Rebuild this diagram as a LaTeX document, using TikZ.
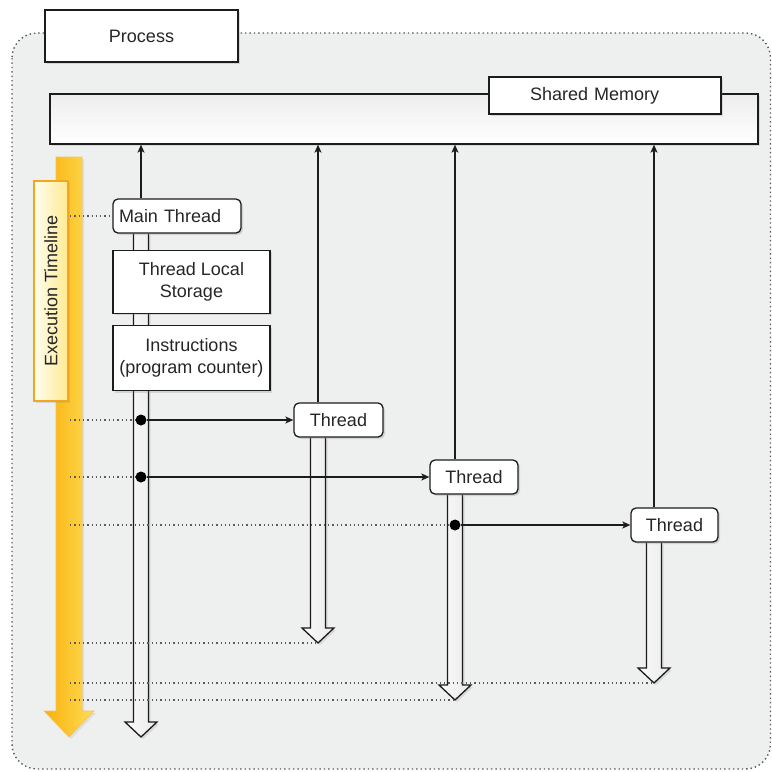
\documentclass[tikz,border=0pt]{standalone}
\usepackage{fontspec}
\setmainfont{Liberation Sans}
\usetikzlibrary{shapes,arrows.meta,positioning,calc,shadows}

\definecolor{procgray}{HTML}{EEEFEF}
\definecolor{lineblack}{HTML}{1C1C1C}
\definecolor{dotgray}{HTML}{5A5A5A}
\definecolor{tlgold}{HTML}{F8B10C}
\definecolor{tlyellow}{HTML}{FFDC55}
\definecolor{tlborder}{HTML}{F2A81E}
\definecolor{tlcream}{HTML}{FFFDF0}
\definecolor{tlpale}{HTML}{FFEA90}

\pgfdeclarelayer{back}
\pgfdeclarelayer{lanes}
\pgfsetlayers{back,lanes,main}

\tikzset{
    % Plain box - square corners
    plainbox/.style={
        rectangle,
        draw=lineblack,
        fill=white,
        line width=1.3pt,
        inner sep=2pt,
        align=center,
        text=black!85,
        font=\fontsize{18}{22}\selectfont,
        drop shadow={shadow xshift=2pt, shadow yshift=-2pt, opacity=0.25}
    },
    % Thread box - rounded corners
    threadbox/.style={
        plainbox,
        rounded corners=5pt,
        minimum width=88pt,
        minimum height=34pt
    },
    % Shared memory strip
    memory/.style={
        rectangle,
        draw=lineblack,
        top color=gray!14,
        bottom color=white,
        line width=1.3pt,
        minimum width=708pt,
        minimum height=50pt,
        drop shadow={shadow xshift=2pt, shadow yshift=-2pt, opacity=0.2}
    },
    % Timeline label - yellow tones
    labelbox/.style={
        rectangle,
        draw=tlborder,
        left color=tlcream,
        right color=tlpale,
        line width=1.2pt,
        minimum width=34pt,
        minimum height=220pt,
        inner sep=0pt,
        text=black!85,
        font=\fontsize{18}{22}\selectfont,
        drop shadow={shadow xshift=2pt, shadow yshift=-2pt, opacity=0.2}
    },
    % Timeline bar
    timeline/.style={
        left color=tlgold,
        right color=tlyellow,
        draw=tlborder!70,
        line width=0.6pt,
        drop shadow={shadow xshift=2pt, shadow yshift=-2pt, opacity=0.15}
    },
    % Hollow lifeline arrow
    lifeline/.style={
        draw=lineblack,
        left color=gray!4,
        right color=gray!16,
        line width=1.3pt,
        drop shadow={shadow xshift=2pt, shadow yshift=-2pt, opacity=0.2}
    },
    % Process area - dotted border
    processarea/.style={
        draw=dotgray,
        fill=procgray,
        line width=1.4pt,
        dash pattern=on 1.4pt off 3pt,
        rounded corners=25pt
    },
    % Fork point
    forkdot/.style={
        circle,
        fill=black,
        inner sep=0pt,
        minimum size=11pt
    },
    % Arrow style
    arrow/.style={
        -{Stealth[length=8pt,width=7pt,inset=2pt]},
        line width=1.3pt,
        draw=lineblack
    },
    % Dotted time marks
    timedots/.style={
        draw=dotgray,
        line width=1.3pt,
        dash pattern=on 1.3pt off 3pt
    }
}

% hollow arrow from the bottom of a box (#1) down to a tip (#2)
\newcommand{\lifeline}[2]{%
    \draw[lifeline] ($(#2 |- #1.south)+(-7.5,0)$) -- ($(#2)+(-7.5,15)$)
        -- ($(#2)+(-16,15)$) -- (#2) -- ($(#2)+(16,15)$)
        -- ($(#2)+(7.5,15)$) -- ($(#2 |- #1.south)+(7.5,0)$);
}

\begin{document}
\begin{tikzpicture}[x=1pt, y=1pt]

    \useasboundingbox (0,0) rectangle (772,-772);

    % ========== PROCESS AREA ==========
    \begin{pgfonlayer}{back}
        \path[processarea] (12,-33) rectangle (770.5,-769);
    \end{pgfonlayer}

    \node[plainbox, minimum width=193pt, minimum height=52pt] (process) at (141.5,-36) {Process};

    % ========== SHARED MEMORY ==========
    \node[memory] (shmem) at (404,-119) {};
    \node[plainbox, minimum height=37pt, text width=150pt, inner xsep=41pt, align=left] (shmlabel) at (605,-95.5) {Shared Memory};

    % ========== TIMELINE ==========
    \coordinate (tl) at (70,-447);
    \node[labelbox] (tllabel) at (51,-291) {\rotatebox{90}{Execution Timeline}};

    % ========== MAIN THREAD ==========
    \node[threadbox, minimum width=128pt, text width=116pt, inner xsep=6pt, align=left] (main) at (177,-216) {Main Thread};
    \node[plainbox, minimum width=157pt, minimum height=63pt, below=16pt of main.south west, anchor=north west] (tls) {Thread Local\\Storage};
    \node[plainbox, minimum width=157pt, minimum height=65pt, below=11pt of tls.south west, anchor=north west] (instr) {Instructions\\(program counter)};

    % ========== THREADS ==========
    \node[threadbox, minimum width=89pt] (t1) at (338.5,-420) {Thread};
    \node[threadbox] (t2) at (474,-477) {Thread};
    \node[threadbox, minimum width=87pt] (t3) at (674.5,-525) {Thread};

    % lifeline ends
    \coordinate (mainend) at (141,-737);
    \coordinate (t1end) at (318,-643);
    \coordinate (t2end) at (455,-700);
    \coordinate (t3end) at (654,-683);

    % fork points
    \node[forkdot] (fork1) at (mainend |- t1.west) {};
    \node[forkdot] (fork2) at (mainend |- t2.west) {};
    \node[forkdot] (fork3) at (t2end |- t3.west) {};

    % ========== LANES (behind the boxes) ==========
    \begin{pgfonlayer}{lanes}
        \path[timeline] (56,-157) -- (82,-157) -- (82,-711) -- (94,-711)
            -- (69,-737) -- (44,-711) -- (56,-711) -- cycle;

        \lifeline{main}{mainend}
        \lifeline{t1}{t1end}
        \lifeline{t2}{t2end}
        \lifeline{t3}{t3end}

        \draw[timedots] (tl |- main.west) -- (main.west);
        \draw[timedots] (tl |- fork1) -- (fork1);
        \draw[timedots] (tl |- fork2) -- (fork2);
        \draw[timedots] (tl |- fork3) -- (fork3);
        \draw[timedots] (tl |- t1end) -- (t1end);
        \draw[timedots] (tl |- t3end) -- (t3end);
        \draw[timedots] (tl |- t2end) -- (t2end);
    \end{pgfonlayer}

    % ========== CONNECTIONS ==========

    % Access to shared memory
    \draw[arrow] (mainend |- main.north) -- (mainend |- shmem.south);
    \draw[arrow] (t1end |- t1.north) -- (t1end |- shmem.south);
    \draw[arrow] (t2end |- t2.north) -- (t2end |- shmem.south);
    \draw[arrow] (t3end |- t3.north) -- (t3end |- shmem.south);

    % Thread creation
    \draw[arrow] (fork1) -- (t1.west);
    \draw[arrow] (fork2) -- (t2.west);
    \draw[arrow] (fork3) -- (t3.west);

\end{tikzpicture}
\end{document}
